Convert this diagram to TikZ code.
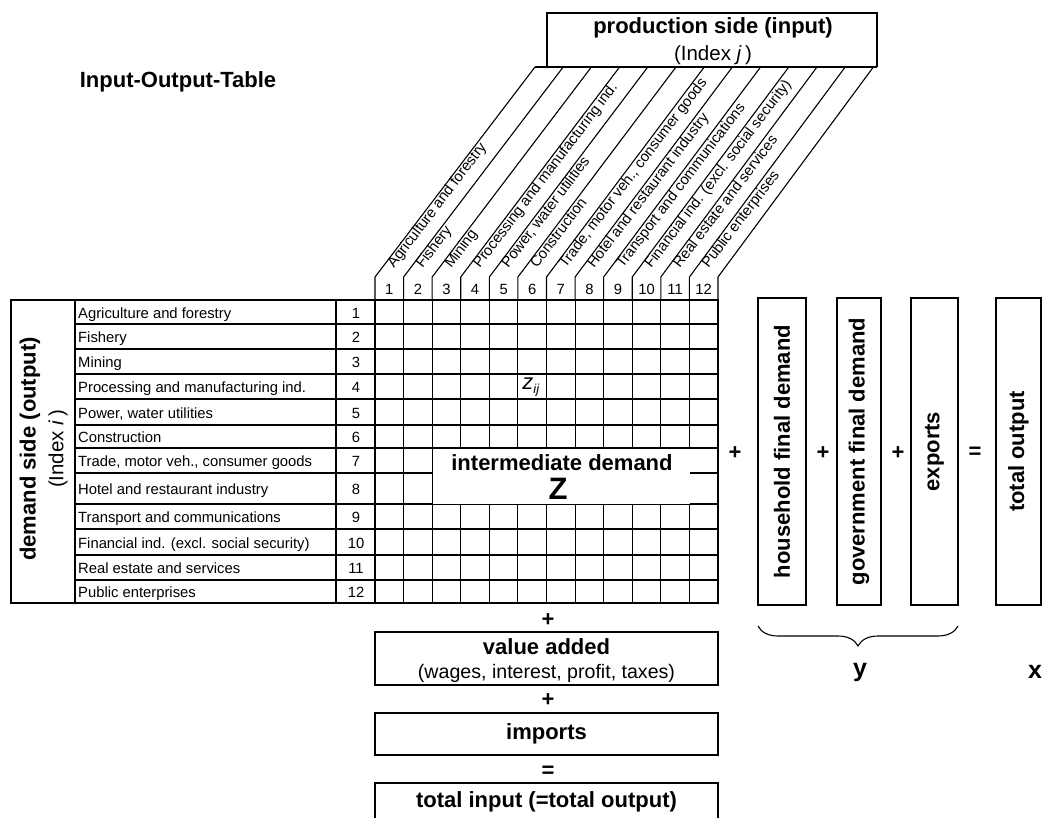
\documentclass[tikz,border=0pt]{standalone}
\usepackage{fontspec}
\setmainfont{Liberation Sans}
\usetikzlibrary{decorations.pathreplacing,calc}
\tikzset{
  small/.style={font=\fontsize{14.8}{16}\selectfont, inner sep=0pt},
  big/.style={font=\fontsize{22}{24}\selectfont\bfseries, inner sep=0pt},
  mid/.style={font=\fontsize{20.5}{22}\selectfont, inner sep=0pt},
  gridline/.style={line width=1pt},
  rowline/.style={line width=1.2pt},
  heavy/.style={line width=2.6pt},
  boxline/.style={line width=2.2pt},
  thinline/.style={line width=1.1pt},
  vbox/.style={draw, boxline, rotate=90, font=\fontsize{22}{24}\selectfont\bfseries, inner sep=0pt},
  hbox/.style={draw, boxline, inner sep=0pt},
}
\begin{document}
\begin{tikzpicture}[x=1pt,y=-1pt]
\useasboundingbox (0,0) rectangle (1043,818);
\clip (0,0) rectangle (1043,818);
\fill[white] (0,0) rectangle (1043,818);

% title
\node[big] (title) at (178,82) {Input-Output-Table};

% production side box
\coordinate (pbl) at (535,67);
\coordinate (pbr) at (877,67);
\draw[thinline] (pbl) -- (pbr);
\draw[thinline] (547,67) -- (547,13) -- (877,13) -- (877,67);
\node[big] (prod) at (713,28) {production side (input)};
\node[mid] (pidx) at (713,55) {(Index \textit{j}\,)};

% slanted header lines and column number separators
\foreach \k in {0,...,12}{
  \draw[thinline] ({375+28.583*\k},300) -- ({375+28.583*\k},277) -- ({535+28.2*\k},67);
}
\foreach \k in {1,...,12}{
  \node[small, anchor=base] (cn\k) at ({375+28.583*(\k-0.5)},294) {\k};
}
\foreach \k/\lab in {1/Agriculture and forestry, 2/Fishery, 3/Mining,
  4/Processing and manufacturing ind., 5/{Power, water utilities},
  6/Construction, 7/{Trade, motor veh., consumer goods},
  8/Hotel and restaurant industry, 9/Transport and communications,
  10/Financial ind. (excl. social security), 11/Real estate and services,
  12/Public enterprises}{
  \node[small, rotate=52.7, anchor=base west] (cl\k) at ({375+28.583*(\k-1)+19},269) {\lab};
}

% grid vertical lines
\foreach \k in {1,...,11}{
  \draw[gridline] ({375+28.583*\k},300) -- ({375+28.583*\k},603);
}
% row lines (left table + grid)
\foreach \y in {324,349,374,399,425,448,473,504,529,555,580}{
  \draw[rowline] (75,\y) -- (718,\y);
}
% left table frame
\draw[rowline] (11,300) rectangle (375,603);
\draw[rowline] (75,300) -- (75,603);
\draw[line width=1.7pt] (336,300) -- (336,603);

% row labels
\foreach \n/\ya/\yb/\lab in {1/300/324/Agriculture and forestry, 2/324/349/Fishery,
  3/349/374/Mining, 4/374/399/Processing and manufacturing ind.,
  5/399/425/{Power, water utilities}, 6/425/448/Construction,
  7/448/473/{Trade, motor veh., consumer goods}, 8/473/504/Hotel and restaurant industry,
  9/504/529/Transport and communications, 10/529/555/Financial ind. (excl. social security),
  11/555/580/Real estate and services, 12/580/603/Public enterprises}{
  \node[small, anchor=base west] (rl\n) at (78,{(\ya+\yb)/2+6}) {\lab};
  \node[small, anchor=base] (rn\n) at (356,{(\ya+\yb)/2+6}) {\n};
}

% demand side label
\node[big, rotate=90] (dem) at (30,449) {demand side (output)};
\node[mid, rotate=90] (didx) at (58,449) {(Index \textit{i}\,)};

% white area for intermediate demand
\fill[white] (433,449) rectangle (689.5,503.5);
\node[big] (imd) at (562,463) {intermediate demand};
\node[font=\fontsize{31}{32}\selectfont\bfseries, inner sep=0pt] (Z) at (558,489) {Z};
\node[font=\fontsize{22}{24}\selectfont\itshape, inner sep=0pt] (zij) at (531,387) {z\textsubscript{\fontsize{13}{14}\selectfont ij}};

% grid frame
\draw[heavy] (375,300) rectangle (718,603);

% right side boxes
\node[big] (p1) at (735,453) {+};
\node[vbox, minimum width=307pt, minimum height=48pt] (hh) at (782,451.5) {household final demand};
\node[big] (p2) at (823,453) {+};
\node[vbox, minimum width=307pt, minimum height=44pt] (gov) at (859,451.5) {government final demand};
\node[big] (p3) at (898,453) {+};
\node[vbox, minimum width=307pt, minimum height=47pt] (exp) at (934.5,451.5) {exports};
\node[big] (eq1) at (975,453) {=};
\node[vbox, minimum width=307pt, minimum height=45pt] (tot) at (1018.5,451.5) {total output};

% brace
\coordinate (bl) at (758,626);
\coordinate (br) at (958,626);
\draw[thinline, decorate, decoration={brace, mirror, amplitude=20pt}] (bl) -- (br);
\node[font=\fontsize{25}{26}\selectfont\bfseries, inner sep=0pt] (ylab) at (860,672) {y};
\node[font=\fontsize{25}{26}\selectfont\bfseries, inner sep=0pt] (xlab) at (1035,672) {x};

% bottom boxes
\node[big] (p4) at (548,620) {+};
\node[hbox, minimum width=343pt, minimum height=53pt] (va) at (546.5,658.5) {};
\node[big] (vat) at (546.5,647) {value added};
\node[font=\fontsize{19.6}{21}\selectfont, inner sep=0pt] (vas) at (546.5,673) {(wages, interest, profit, taxes)};
\node[big] (p5) at (548,700) {+};
\node[hbox, minimum width=343pt, minimum height=42pt, font=\fontsize{22}{24}\selectfont\bfseries] (imp) at (546.5,734) {imports};
\node[big] (eq2) at (548,772) {=};
\node[hbox, minimum width=343pt, minimum height=54pt] (ti) at (546.5,810) {};
\node[big] (tit) at (546.5,802) {total input (=total output)};
\end{tikzpicture}
\end{document}
